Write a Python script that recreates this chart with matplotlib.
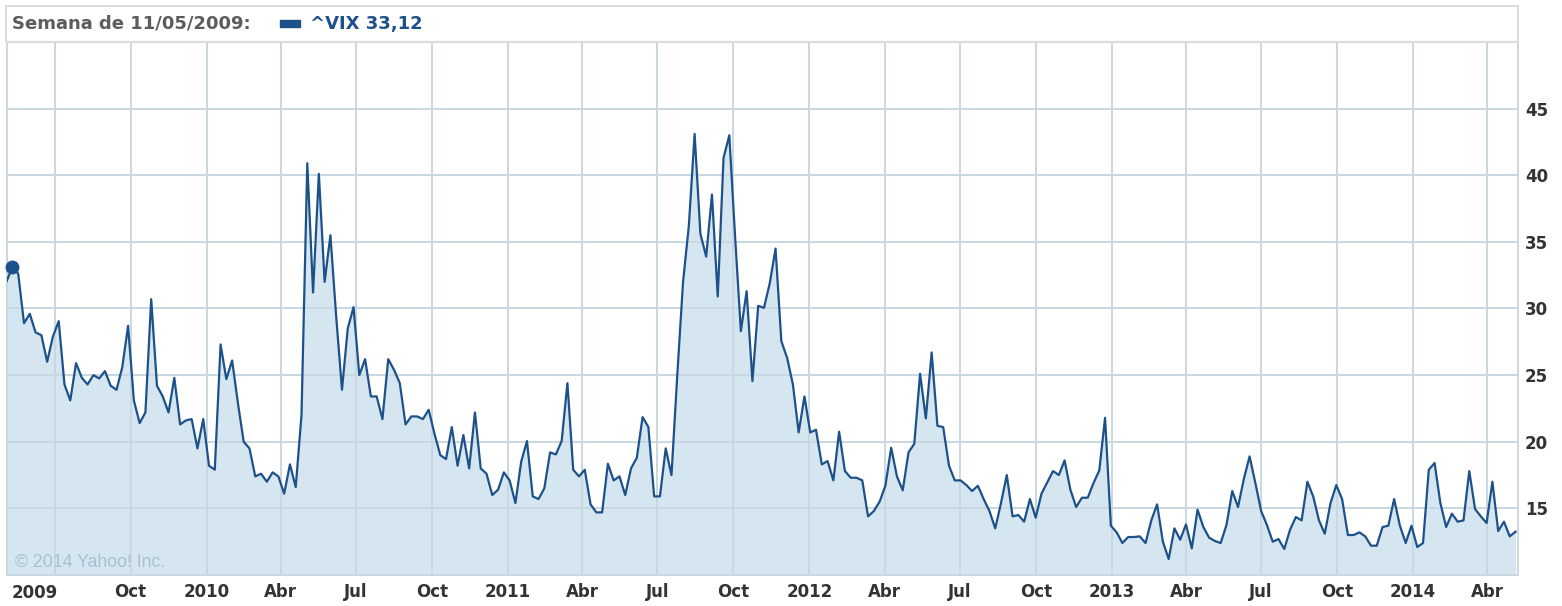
import pandas as pd
import matplotlib
matplotlib.use("Agg")
import matplotlib.pyplot as plt
from matplotlib.patches import Rectangle

# Weekly VIX closes (weeks starting Monday 04/05/2009)
vix_2009 = [32.05, 33.12, 32.6, 28.9, 29.6, 28.2, 28.0, 26.0, 27.9, 29.05,
            24.3, 23.1, 25.9, 24.8, 24.3, 25.0, 24.75, 25.3, 24.2, 23.9,
            25.6, 28.7, 23.1, 21.4, 22.2, 30.7, 24.2, 23.4, 22.2, 24.8,
            21.3, 21.6, 21.7, 19.5, 21.7]
vix_2010 = [18.2, 17.9, 27.3, 24.7, 26.1, 22.9, 20.0, 19.5, 17.4, 17.6,
            17.0, 17.7, 17.4, 16.1, 18.3, 16.6, 22.0, 40.9, 31.2, 40.1,
            32.0, 35.5, 29.4, 23.9, 28.5, 30.1, 25.0, 26.2, 23.4, 23.4,
            21.7, 26.2, 25.4, 24.4, 21.3, 21.9, 21.9, 21.7, 22.4, 20.6,
            19.0, 18.7, 21.1, 18.2, 20.5, 18.0, 22.2, 18.0, 17.6, 16.0,
            16.4, 17.7]
vix_2011 = [17.1, 15.4, 18.5, 20.05, 15.9, 15.7, 16.5, 19.2, 19.05, 20.05,
            24.4, 17.9, 17.4, 17.9, 15.3, 14.7, 14.7, 18.35, 17.1, 17.4,
            16.0, 18.0, 18.8, 21.85, 21.1, 15.9, 15.9, 19.5, 17.5, 25.0,
            32.0, 36.2, 43.1, 35.6, 33.9, 38.55, 30.9, 41.3, 43.0, 35.4,
            28.3, 31.3, 24.55, 30.2, 30.05, 31.9, 34.5, 27.55, 26.3, 24.3,
            20.7, 23.4]
vix_2012 = [20.7, 20.9, 18.3, 18.55, 17.1, 20.75, 17.8, 17.3, 17.3, 17.1,
            14.4, 14.8, 15.5, 16.7, 19.55, 17.4, 16.35, 19.2, 19.85, 25.1,
            21.75, 26.7, 21.2, 21.1, 18.2, 17.1, 17.1, 16.75, 16.3, 16.7,
            15.7, 14.8, 13.5, 15.4, 17.5, 14.4, 14.5, 14.0, 15.7, 14.3,
            16.1, 16.95, 17.8, 17.5, 18.6, 16.4, 15.1, 15.8, 15.8, 16.9,
            17.85, 21.8, 13.7]
vix_2013 = [13.2, 12.4, 12.85, 12.85, 12.9, 12.4, 14.1, 15.3, 12.5, 11.2,
            13.5, 12.65, 13.8, 12.0, 14.9, 13.6, 12.8, 12.55, 12.4, 13.75,
            16.3, 15.1, 17.2, 18.9, 16.9, 14.8, 13.75, 12.5, 12.7, 11.95,
            13.4, 14.35, 14.1, 17.0, 15.9, 14.1, 13.1, 15.4, 16.75, 15.7,
            13.0, 13.0, 13.2, 12.9, 12.2, 12.2, 13.6, 13.7, 15.7, 13.7,
            12.4, 13.7]
vix_2014 = [12.1, 12.4, 17.9, 18.4, 15.4, 13.6, 14.6, 14.0, 14.1, 17.8,
            14.95, 14.4, 13.9, 17.0, 13.3, 14.0, 12.9, 13.25]

tick_dates = pd.date_range("2009-07-01", "2014-04-01", freq="QS")
tick_labels = ["", "Oct", "2010", "Abr", "Jul", "Oct", "2011", "Abr", "Jul",
               "Oct", "2012", "Abr", "Jul", "Oct", "2013", "Abr", "Jul",
               "Oct", "2014", "Abr"]
y_ticks = [15, 20, 25, 30, 35, 40, 45]

vix = vix_2009 + vix_2010 + vix_2011 + vix_2012 + vix_2013 + vix_2014
weeks = pd.date_range("2009-05-04", periods=len(vix), freq="7D")
hl = 1  # highlighted week

LINE = "#1d5189"
FILL = "#d6e6f1"
GRID = "#c9d7e1"
TXT = "#333333"

fig = plt.figure(figsize=(15.62, 6.06), dpi=100)
ax = fig.add_axes([7.5 / 1562, 31 / 606, 1510.5 / 1562, 533 / 606])

ax.fill_between(weeks, vix, 10, color=FILL, lw=0, zorder=0.3)
ax.plot(weeks, vix, color=LINE, lw=1.6, zorder=3)
ax.plot(weeks[hl], vix[hl], "o", color=LINE, ms=9, zorder=4, clip_on=False)

ax.set_ylim(10, 50)
ax.set_xlim(pd.Timestamp("2009-05-05"), pd.Timestamp("2014-05-08"))
ax.set_axisbelow(True)
ax.grid(True, color=GRID, lw=1.4)

ax.set_yticks(y_ticks)
ax.yaxis.tick_right()
ax.set_xticks(tick_dates)
ax.set_xticklabels(tick_labels)
ax.tick_params(length=0, labelsize=12, labelcolor=TXT)
ax.tick_params(axis="y", pad=5)
ax.tick_params(axis="x", pad=6)
for lab in ax.get_xticklabels() + ax.get_yticklabels():
    lab.set_fontweight("bold")
ax.text(0.003, -8.5 / 533, "2009", transform=ax.transAxes, ha="left", va="top",
        fontsize=12, fontweight="bold", color=TXT)

for side in ["left", "bottom", "right"]:
    ax.spines[side].set_color(GRID)
    ax.spines[side].set_linewidth(1.4)
ax.spines["top"].set_color("#dcdcdc")
ax.spines["top"].set_linewidth(1.5)

ax.text(0.005, 0.016, "\u00a9 2014 Yahoo! Inc.", transform=ax.transAxes,
        fontsize=12.8, color="#a9bfcf", family="Liberation Sans", zorder=1)

# header box
fig.patches.append(Rectangle((6 / 1562, 1 - 42 / 606), 1512 / 1562, 36 / 606,
                             transform=fig.transFigure, fill=False,
                             ec="#dcdcdc", lw=1.5))
fig.text(12 / 1562, 1 - 24 / 606, "Semana de 11/05/2009:", ha="left",
         va="center", fontsize=13, fontweight="bold", color="#5c5c5c")
fig.patches.append(Rectangle((280 / 1562, 1 - 27 / 606), 20 / 1562, 7 / 606,
                             transform=fig.transFigure, color=LINE))
fig.text(310 / 1562, 1 - 24 / 606, "^VIX " + f"{vix[hl]:.2f}".replace(".", ","),
         ha="left", va="center", fontsize=13, fontweight="bold", color=LINE)

plt.savefig("out.png", dpi=100)
